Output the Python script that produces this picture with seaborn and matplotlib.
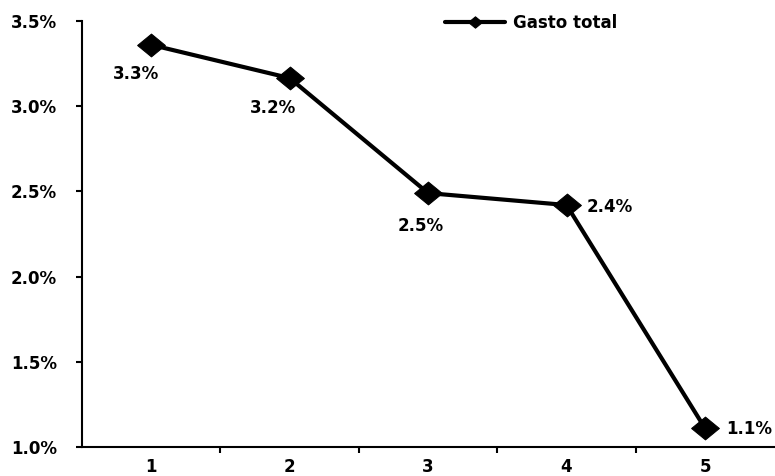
import matplotlib
matplotlib.use('Agg')
import matplotlib.pyplot as plt
from matplotlib.ticker import FixedLocator, FuncFormatter
import seaborn as sns
import pandas as pd

# datos
categorias = [1, 2, 3, 4, 5]
gasto_total = [3.36, 3.165, 2.49, 2.42, 1.11]
etiquetas = ['3.3%', '3.2%', '2.5%', '2.4%', '1.1%']
# desplazamiento de cada etiqueta (pixeles)
offsets = [(-15, -29), (-17, -30), (-7, -33), (43, -2), (44, -1)]

sns.set_style('ticks')
plt.rcParams['font.family'] = ['DejaVu Sans']
plt.rcParams['font.weight'] = 'bold'
plt.rcParams['font.size'] = 12
for k in ['text.color', 'axes.labelcolor', 'xtick.color', 'ytick.color', 'axes.edgecolor']:
    plt.rcParams[k] = 'black'

df = pd.DataFrame({'cat': categorias, 'valor': gasto_total})

fig = plt.figure(figsize=(7.75, 4.76), dpi=100)
ax = fig.add_axes([82 / 775, 1 - 447 / 476, 1 - 82 / 775 - 0.001, (447 - 21) / 476])

diamante = [(-1, 0), (0, 0.82), (1, 0), (0, -0.82), (-1, 0)]
sns.lineplot(data=df, x='cat', y='valor', ax=ax, color='black', linewidth=3,
             marker=diamante, markersize=20, markeredgecolor='black',
             label='Gasto total')

for x, y, txt, (dx, dy) in zip(categorias, gasto_total, etiquetas, offsets):
    ax.annotate(txt, (x, y), xytext=(dx, dy), textcoords='offset pixels',
                ha='center', va='center', fontsize=12, fontweight='bold')

ax.set_xlim(0.5, 5.5)
ax.set_ylim(1.0, 3.5)
ax.set_yticks([1.0, 1.5, 2.0, 2.5, 3.0, 3.5])
ax.yaxis.set_major_formatter(FuncFormatter(lambda v, p: f'{v:.1f}%'))
ax.set_xticks(categorias)
ax.set_xticklabels([str(c) for c in categorias])
ax.xaxis.set_minor_locator(FixedLocator([1.5, 2.5, 3.5, 4.5]))
ax.tick_params(axis='x', which='major', length=0, pad=8, labelsize=12)
ax.tick_params(axis='x', which='minor', length=4, width=1.5, direction='out')
ax.tick_params(axis='y', length=4, width=1.5, pad=14, labelsize=12)
ax.set_xlabel('')
ax.set_ylabel('')

sns.despine(ax=ax)
for s in ['left', 'bottom']:
    ax.spines[s].set_linewidth(1.5)

leg = ax.legend(loc='upper left', bbox_to_anchor=(445 / 775, 1 - 14 / 476),
                bbox_transform=fig.transFigure, frameon=False,
                handlelength=3.6, handletextpad=0.5, borderpad=0,
                borderaxespad=0, prop={'weight': 'bold', 'size': 12})
for ln in leg.get_lines():
    ln.set_markersize(10)

fig.savefig('out.png', dpi=100)
